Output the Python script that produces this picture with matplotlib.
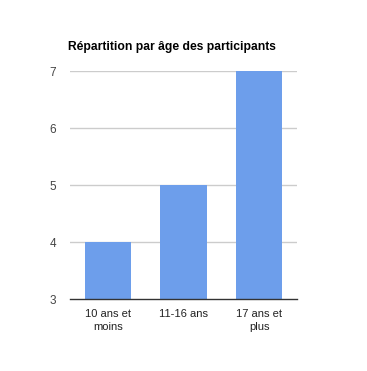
import matplotlib
matplotlib.use("Agg")
import matplotlib.pyplot as plt

plt.rcParams["font.family"] = ["Liberation Sans", "DejaVu Sans"]

categories = ["10 ans et\nmoins", "11-16 ans", "17 ans et\nplus"]
values = [4, 5, 7]
yticks = [3, 4, 5, 6, 7]

fig = plt.figure(figsize=(3.67, 3.71), dpi=100)
ax = fig.add_axes([0.1907, 0.194, 0.619, 0.6145])

x = range(len(categories))
ax.bar(x, values, width=0.61, color="#6d9eeb", zorder=2)
ax.set_xlim(-0.5, 2.5)
ax.set_ylim(3, 7)
ax.set_yticks(yticks)
ax.set_xticks(list(x))
ax.set_xticklabels(categories, fontsize=8, color="#222222", linespacing=1.35)
ax.tick_params(axis="y", labelsize=8.5, labelcolor="#444444", length=0, pad=10)
ax.tick_params(axis="x", length=0, pad=7)
for y in yticks[1:]:
    ax.axhline(y, color="#cccccc", linewidth=1, zorder=1)
for s in ["top", "right", "left"]:
    ax.spines[s].set_visible(False)
ax.spines["bottom"].set_color("#333333")
ax.spines["bottom"].set_linewidth(1)
ax.spines["bottom"].set_zorder(3)

fig.text(68 / 367, 1 - 47 / 371, "Répartition par âge des participants",
         fontsize=8.7, fontweight="bold", color="#000000", va="center", ha="left")

fig.savefig("out.png", dpi=100)
